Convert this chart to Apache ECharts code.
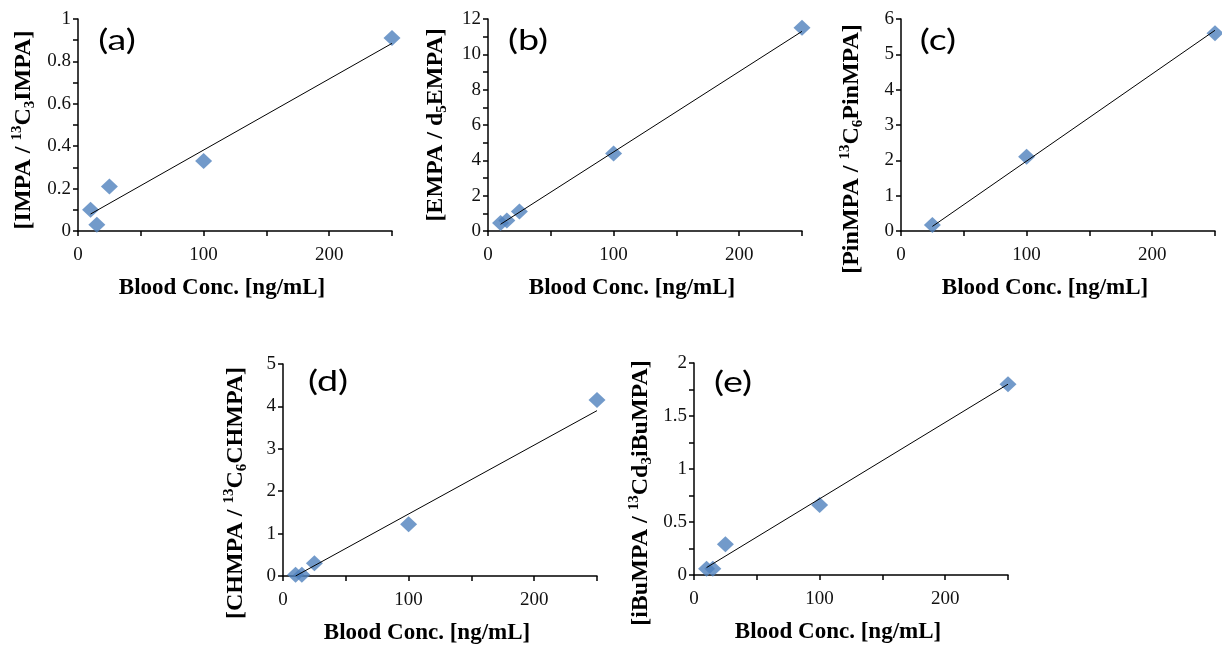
<!DOCTYPE html>
<html>
<head>
  <meta charset="utf-8">
  <title>Calibration curves</title>
</head>
<body style="margin: 0; width: 1222px; height: 646px; background: #fff;">
  <div id="container" style="width: 1222px; height: 646px;"></div>

  <script type="text/javascript" src="https://fastly.jsdelivr.net/npm/echarts@6.0.0/dist/echarts.min.js"></script>
  <script type="text/javascript">
    // blood concentration levels (ng/mL)
    var concA = [10, 15, 25, 100, 250];
    var ratioA = [0.10, 0.03, 0.21, 0.33, 0.91];
    var trendA = [[10, 0.08], [250, 0.885]];

    var concB = [10, 15, 25, 100, 250];
    var ratioB = [0.45, 0.6, 1.1, 4.38, 11.5];
    var trendB = [[10, 0.38], [250, 11.3]];

    var concC = [25, 100, 250];
    var ratioC = [0.17, 2.1, 5.6];
    var trendC = [[25, 0.13], [250, 5.68]];

    var concD = [10, 15, 25, 100, 250];
    var ratioD = [0.03, 0.03, 0.3, 1.22, 4.15];
    var trendD = [[10, 0.0], [250, 3.9]];

    var concE = [10, 15, 25, 100, 250];
    var ratioE = [0.06, 0.06, 0.29, 0.66, 1.8];
    var trendE = [[10, 0.07], [250, 1.8]];

    var xTicks = [0, 100, 200];

    var panels = [
      { tag: '(a)', x: concA, y: ratioA, trend: trendA, max: 1, minor: 0.1, major: 0.2,
        name: '[IMPA / {sup|13}C{sub|3}IMPA]', left: 78, top: 19, gap: 40, shift: 5, lx: 117, ly: 41 },
      { tag: '(b)', x: concB, y: ratioB, trend: trendB, max: 12, minor: 1, major: 2,
        name: '[EMPA / d{sub|5}EMPA]', left: 488, top: 19, gap: 38, shift: 0, lx: 528, ly: 41 },
      { tag: '(c)', x: concC, y: ratioC, trend: trendC, max: 6, minor: 1, major: 1,
        name: '[PinMPA / {sup|13}C{sub|6}PinMPA]', left: 901, top: 19, gap: 35, shift: 24, lx: 938, ly: 41 },
      { tag: '(d)', x: concD, y: ratioD, trend: trendD, max: 5, minor: 1, major: 1,
        name: '[CHMPA / {sup|13}C{sub|6}CHMPA]', left: 283, top: 364, gap: 33, shift: 23, lx: 328, ly: 382 },
      { tag: '(e)', x: concE, y: ratioE, trend: trendE, max: 2, minor: 0.25, major: 0.5,
        name: '[iBuMPA / {sup|13}Cd{sub|3}iBuMPA]', left: 694, top: 363, gap: 39, shift: 24, lx: 733, ly: 383 }
    ];

    var serif = "'Liberation Serif', 'Times New Roman', serif";
    var grids = [], xAxes = [], yAxes = [], series = [], labels = [];

    panels.forEach(function (p, i) {
      grids.push({ left: p.left, top: p.top, width: 314, height: 212, outerBoundsMode: 'none', containLabel: false });

      xAxes.push({
        type: 'value', gridIndex: i, min: 0, max: 250, interval: 50,
        axisLine: { lineStyle: { color: '#000', width: 1.5 } },
        axisTick: { show: true, length: 5, lineStyle: { color: '#000', width: 1.5 } },
        splitLine: { show: false },
        axisLabel: {
          fontFamily: serif, fontSize: 19, color: '#111', margin: 15,
          formatter: function (v) { return xTicks.indexOf(v) >= 0 ? String(v) : ''; }
        },
        name: 'Blood Conc. [ng/mL]', nameLocation: 'middle', nameGap: 46,
        nameTextStyle: { fontFamily: serif, fontWeight: 'bold', fontSize: 23, color: '#000', padding: [0, 26, 0, 0] }
      });

      yAxes.push({
        type: 'value', gridIndex: i, min: 0, max: p.max, interval: p.minor,
        axisLine: { show: true, lineStyle: { color: '#000', width: 1.5 } },
        axisTick: { show: true, length: 5, lineStyle: { color: '#000', width: 1.5 } },
        splitLine: { show: false },
        axisLabel: {
          fontFamily: serif, fontSize: 19, color: '#111', margin: 7,
          formatter: function (v) {
            var k = v / p.major;
            if (Math.abs(k - Math.round(k)) > 1e-6) return '';
            return String(+v.toFixed(2));
          }
        },
        name: p.name, nameLocation: 'middle', nameGap: p.gap, nameRotate: 90,
        nameTextStyle: {
          fontFamily: serif, fontWeight: 'bold', fontSize: 24, color: '#000', lineHeight: 28,
          padding: [0, p.shift * 2, 0, 0],
          rich: {
            sup: { fontFamily: serif, fontWeight: 'bold', fontSize: 15, verticalAlign: 'top', lineHeight: 28 },
            sub: { fontFamily: serif, fontWeight: 'bold', fontSize: 15, verticalAlign: 'bottom', lineHeight: 28 }
          }
        }
      });

      series.push({
        type: 'line', xAxisIndex: i, yAxisIndex: i,
        data: p.trend, showSymbol: false, silent: true,
        lineStyle: { color: '#000', width: 1 }, z: 3
      });
      series.push({
        type: 'scatter', xAxisIndex: i, yAxisIndex: i,
        data: p.x.map(function (c, j) { return [c, p.y[j]]; }),
        symbol: 'diamond', symbolSize: [17, 16],
        itemStyle: { color: '#4F81BD' }, z: 2
      });

      labels.push({
        type: 'text', x: p.lx, y: p.ly, scaleX: 1.3,
        style: { text: p.tag, font: '29px Lato', fill: '#000', align: 'center', verticalAlign: 'middle' }
      });
    });

    var myChart = echarts.init(document.getElementById('container'), null, { renderer: 'canvas' });
    myChart.setOption({
      animation: false,
      backgroundColor: '#fff',
      textStyle: { fontFamily: serif },
      grid: grids,
      xAxis: xAxes,
      yAxis: yAxes,
      series: series,
      graphic: labels
    });
  </script>
</body>
</html>
